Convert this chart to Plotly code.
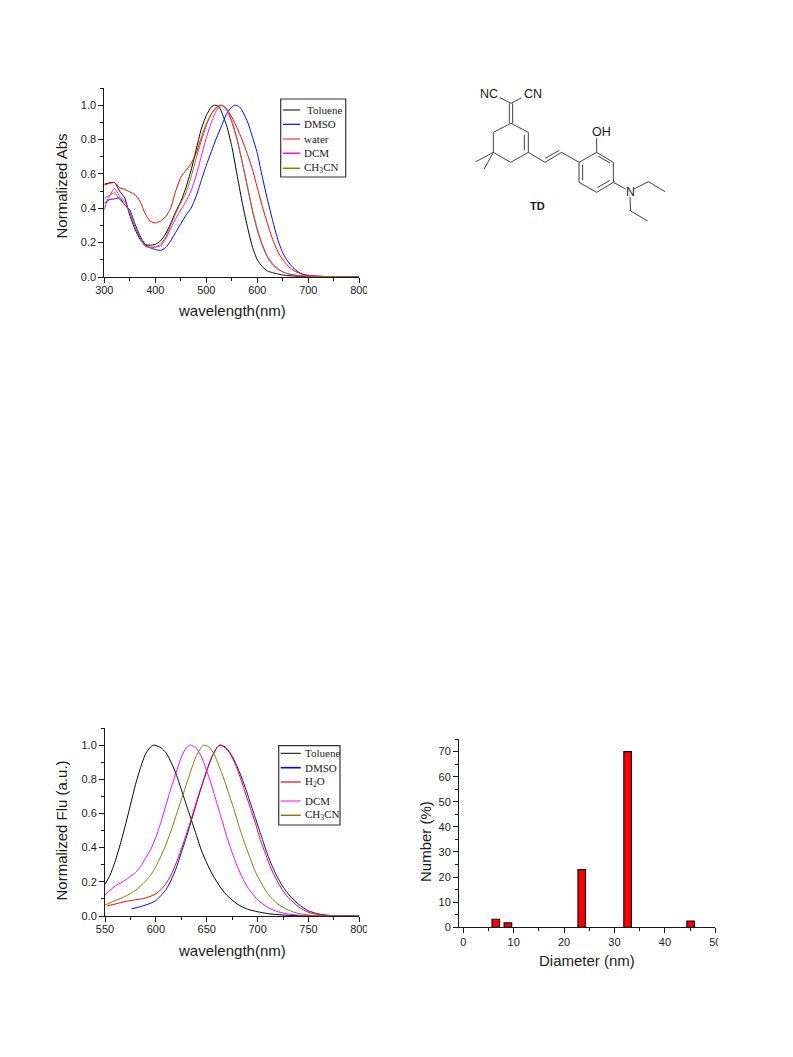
import plotly.graph_objects as go

W, H = 793, 1057
def px(x): return x / W
def py(y): return 1 - y / H

# ---------- Absorption data ----------
abs_tol_x = [300,320,330,340,350,360,370,380,390,400,410,420,430,440,450,460,470,480,490,500,510,517,525,530,540,550,560,570,580,590,600,610,620,630,640,650,660,680,700,800]
abs_tol_y = [.54,.55,.50,.46,.36,.28,.22,.19,.185,.19,.21,.25,.31,.38,.44,.52,.62,.74,.86,.94,.99,1.0,.99,.96,.88,.76,.60,.44,.30,.18,.10,.06,.035,.025,.018,.012,.008,.004,.002,0]
abs_dmso_x = [300,310,320,330,340,350,360,370,380,390,400,410,420,430,440,450,460,470,480,490,500,510,520,530,540,550,556,565,570,580,590,600,610,620,630,640,650,660,670,680,690,700,720,750,800]
abs_dmso_y = [.43,.45,.455,.46,.42,.39,.31,.24,.19,.17,.16,.155,.17,.21,.26,.31,.36,.40,.47,.56,.65,.73,.81,.88,.95,.99,1.0,.99,.97,.91,.82,.72,.58,.45,.33,.22,.14,.09,.055,.03,.015,.008,.004,.002,0]
abs_wat_x = [300,310,320,330,340,350,360,370,380,390,400,410,420,430,440,450,460,470,480,490,500,510,520,530,540,550,560,570,580,590,600,610,620,630,640,650,660,670,680,690,700,720,800]
abs_wat_y = [.535,.545,.55,.52,.51,.495,.48,.44,.37,.325,.315,.325,.35,.40,.50,.58,.62,.66,.72,.81,.89,.95,.985,1.0,.98,.93,.87,.80,.72,.63,.52,.41,.31,.22,.15,.10,.065,.04,.025,.015,.01,.004,0]
abs_dcm_x = [300,305,310,320,330,340,350,360,370,380,390,400,410,420,430,440,450,460,470,480,490,500,510,520,530,540,550,560,570,580,590,600,610,620,630,640,650,660,680,700,715,750,800]
abs_dcm_y = [.39,.44,.47,.515,.47,.44,.37,.29,.23,.18,.17,.175,.18,.22,.28,.34,.39,.44,.50,.59,.70,.81,.90,.97,1.0,.97,.90,.80,.67,.53,.39,.27,.18,.115,.07,.045,.03,.018,.009,.006,.005,.001,0]
abs_can_x = [300,310,320,330,340,350,360,370,380,390,400,410,420,430,440,450,460,470,480,490,500,510,520,527,540,550,560,570,580,590,600,610,620,630,640,650,660,680,700,800]
abs_can_y = [.46,.475,.49,.45,.42,.38,.29,.225,.18,.175,.175,.19,.23,.30,.37,.43,.49,.58,.69,.79,.88,.95,.99,1.0,.98,.91,.81,.68,.54,.40,.28,.19,.12,.08,.05,.03,.02,.008,.004,0]

# ---------- Fluorescence data ----------
flu_tol_x = [550,555,560,565,570,575,580,585,590,595,598,605,610,615,620,625,630,635,640,645,650,655,660,665,670,680,690,700,710,720,730,750,800]
flu_tol_y = [.185,.24,.32,.42,.53,.65,.77,.87,.95,.99,1.0,.985,.955,.90,.83,.74,.65,.56,.47,.38,.31,.25,.20,.155,.12,.07,.04,.025,.014,.008,.004,.001,0]
flu_dmso_x = [576,585,595,600,605,610,615,620,625,630,635,640,645,650,655,660,663,668,673,678,683,688,693,698,703,708,713,718,723,730,740,750,760,770,780,800]
flu_dmso_y = [.042,.055,.075,.09,.12,.155,.21,.28,.37,.46,.56,.66,.76,.85,.93,.985,1.0,.99,.955,.90,.83,.75,.66,.57,.48,.39,.31,.245,.19,.13,.07,.03,.012,.004,.001,0]
flu_h2o_x = [552,560,570,580,590,600,605,610,615,620,625,630,635,640,645,650,655,660,663,668,673,678,683,688,693,698,703,708,713,718,723,730,740,750,760,770,800]
flu_h2o_y = [.06,.07,.085,.095,.105,.13,.155,.19,.24,.31,.39,.48,.57,.67,.76,.85,.93,.985,1.0,.985,.95,.89,.81,.72,.63,.54,.44,.36,.28,.22,.165,.11,.055,.022,.008,.003,0]
flu_dcm_x = [550,555,560,570,580,585,590,595,600,605,610,615,620,625,630,634,640,645,650,655,660,665,670,675,680,685,690,695,700,710,720,730,740,750,800]
flu_dcm_y = [.125,.15,.175,.21,.255,.29,.34,.39,.46,.55,.65,.75,.84,.93,.985,1.0,.98,.93,.85,.76,.66,.56,.46,.37,.29,.225,.17,.13,.095,.05,.025,.012,.005,.002,0]
flu_can_x = [550,560,570,580,590,595,600,605,610,615,620,625,630,635,640,645,647,652,657,662,667,672,677,682,687,692,697,702,710,720,730,740,750,760,800]
flu_can_y = [.065,.09,.115,.15,.205,.24,.29,.35,.42,.50,.59,.68,.77,.86,.94,.99,1.0,.99,.95,.88,.80,.71,.62,.52,.43,.35,.27,.21,.13,.07,.035,.015,.006,.002,0]

# ---------- Size distribution ----------
dls_diameter = [6.45, 8.85, 23.5, 32.6, 45.1]
dls_number = [3.2, 1.8, 23, 70, 2.5]

# ---------- Text ----------
abs_labels = ["Toluene", "DMSO", "water", "DCM", "CH<sub>3</sub>CN"]
flu_labels = ["Toluene", "DMSO", "H<sub>2</sub>O", "DCM", "CH<sub>3</sub>CN"]
colors = ["#000000", "#0000ff", "#ff0000", "#ff00ff", "#808000"]

SANS = "Liberation Sans"
SERIF = "Liberation Serif"
INK = "#1a1a1a"

fig = go.Figure()

for xs, ys, c in zip([abs_tol_x, abs_dmso_x, abs_wat_x, abs_dcm_x, abs_can_x],
                     [abs_tol_y, abs_dmso_y, abs_wat_y, abs_dcm_y, abs_can_y], colors):
    fig.add_trace(go.Scatter(x=xs, y=ys, mode="lines", xaxis="x", yaxis="y",
                             line=dict(color=c, width=1, shape="spline", smoothing=0.6), showlegend=False))

for xs, ys, c in zip([flu_tol_x, flu_dmso_x, flu_h2o_x, flu_dcm_x, flu_can_x],
                     [flu_tol_y, flu_dmso_y, flu_h2o_y, flu_dcm_y, flu_can_y], colors):
    fig.add_trace(go.Scatter(x=xs, y=ys, mode="lines", xaxis="x2", yaxis="y2",
                             line=dict(color=c, width=1, shape="spline", smoothing=0.6), showlegend=False))

fig.add_trace(go.Bar(x=dls_diameter, y=dls_number, width=1.5, xaxis="x3", yaxis="y3",
                     marker=dict(color="#ff0000", line=dict(color="#111111", width=1.2)), showlegend=False))


def axis(x0, x1, rng, dtick, minor, anchor, tick0=None, fmt=None, label_shift=0):
    a = dict(range=rng, dtick=dtick, tick0=rng[0] if tick0 is None else tick0,
             anchor=anchor, showgrid=False, zeroline=False, showline=True, automargin=False,
             linecolor=INK, linewidth=1, ticks="outside", ticklen=5, tickwidth=1, tickcolor=INK,
             ticklabelstandoff=label_shift,
             tickfont=dict(family=SANS, size=11, color=INK),
             minor=dict(dtick=minor, ticks="outside", ticklen=3, tickwidth=1, tickcolor=INK, showgrid=False))
    a["domain"] = [x0, x1]
    if fmt:
        a["tickformat"] = fmt
    return a


layout = dict(
    width=W, height=H, autosize=False, margin=dict(l=0, r=0, t=0, b=0),
    paper_bgcolor="white", plot_bgcolor="white", showlegend=False, barmode="overlay",
    xaxis=axis(px(104.3), px(359.3), [300, 800], 100, 50, "y", label_shift=-2),
    yaxis=axis(py(277), py(88), [0, 1.1], 0.2, 0.1, "x", fmt=".1f"),
    xaxis2=axis(px(105), px(359.3), [550, 800], 50, 25, "y2", label_shift=-2),
    yaxis2=axis(py(916), py(728), [0, 1.1], 0.2, 0.1, "x2", fmt=".1f"),
    xaxis3=axis(px(459), px(715.3), [-0.85, 50], 10, 5, "y3", tick0=0, label_shift=-1),
    yaxis3=axis(py(927.3), py(739), [0, 75], 10, 5, "x3"),
)

shapes, notes = [], []

def seg(x0, y0, x1, y1, color="#222222", width=1.0):
    shapes.append(dict(type="line", xref="paper", yref="paper", x0=px(x0), y0=py(y0), x1=px(x1), y1=py(y1),
                       line=dict(color=color, width=width)))

def label(x, y, text, family=SERIF, size=11, anchor="left", color=INK, bold=False, angle=0):
    notes.append(dict(xref="paper", yref="paper", x=px(x), y=py(y), text=f"<b>{text}</b>" if bold else text,
                      showarrow=False, xanchor=anchor, yanchor="middle", textangle=angle,
                      font=dict(family=family, size=size, color=color), borderpad=0))

def legend_box(x0, y0, x1, y1, line_x0, line_x1, text_xs, ys, labels, cols, widths):
    shapes.append(dict(type="rect", xref="paper", yref="paper", x0=px(x0), y0=py(y0), x1=px(x1), y1=py(y1),
                       line=dict(color="#333333", width=1.2), fillcolor="white", layer="above"))
    for t, y, c, w, tx in zip(labels, ys, cols, widths, text_xs):
        seg(line_x0, y, line_x1, y, c, w)
        label(tx, y, t)

legend_box(280.7, 99, 345.7, 177, 283, 300, [306, 302.5, 302.5, 302.5, 302.5],
           [110, 124.3, 139, 153.3, 168.3], abs_labels, colors, [1, 1.2, 1, 1.5, 1.5])
legend_box(278.7, 745.7, 340, 825, 280.7, 300.7, [303.5] * 5,
           [753.3, 767.7, 782, 801, 815.3], flu_labels, colors, [1, 1.6, 1.2, 1, 1.5])

# Axis titles
for x, y, t in [(231.7, 310.5, "wavelength(nm)"), (231.7, 950, "wavelength(nm)"), (587, 960.5, "Diameter (nm)")]:
    label(x, y, t, SANS, 15, "center")
for x, y, t in [(60.5, 186, "Normalized Abs"), (60.5, 831, "Normalized Flu (a.u.)"), (425, 842, "Number (%)")]:
    label(x, y, t, SANS, 15, "center", angle=-90)

# Chemical structure TD (zoomed sketch coordinates mapped to page pixels)
def zx(v): return 460 + v / 3
def zy(v): return 75 + v / 3
bonds = [
    (120,68,153,85),(185,68,153,85),(148,85,148,145),(158,85,158,145),
    (153,145,205,172),(205,172,205,232),(193,180,193,225),(205,232,152,262),(152,262,100,232),
    (100,232,100,172),(100,172,153,145),(100,232,48,260),(100,232,72,283),
    (205,232,255,262),(255,262,305,232),(255,250,298,226),(305,232,357,262),
    (357,262,410,232),(410,232,460,262),(460,262,460,322),(460,322,410,352),(410,352,357,322),(357,322,357,262),
    (368,268,368,315),(415,244,450,264),(412,338,450,316),
    (410,232,410,190),(460,322,497,342),(522,342,565,320),(565,320,615,350),
    (510,365,512,408),(512,408,563,438),
]
for b in bonds:
    seg(zx(b[0]), zy(b[1]), zx(b[2]), zy(b[3]), "#2a2a2a", 0.9)
for z_x, z_y, t in [(87,57,"NC"),(218,57,"CN"),(423,172,"OH"),(510,350,"N")]:
    label(zx(z_x), zy(z_y), t, SANS, 12.5, "center")
label(zx(232), zy(393), "TD", SANS, 11, "center", bold=True)

# The reference cuts the last tick label of each panel at the panel edge
for x0, x1, y0, y1 in [(367, 385, 280, 298), (367, 385, 919, 937), (718, 735, 931, 948)]:
    shapes.append(dict(type="rect", xref="paper", yref="paper", x0=px(x0), x1=px(x1), y0=py(y0), y1=py(y1),
                       fillcolor="white", line=dict(width=0), layer="above"))

layout["shapes"] = shapes
layout["annotations"] = notes
fig.update_layout(**layout)
fig.write_html("out.html", config={"displayModeBar": False},
               post_script="document.body.style.margin='0';")
